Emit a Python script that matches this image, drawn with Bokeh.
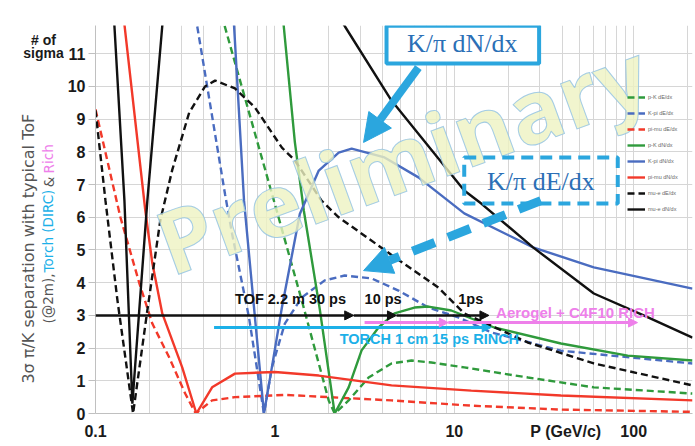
from bokeh.plotting import figure
from bokeh.layouts import row
from bokeh.models import (Range1d, FixedTicker, NumeralTickFormatter, Label, Arrow,
                          NormalHead, BoxAnnotation, Legend, LegendItem)
from bokeh.embed import file_html
from bokeh.resources import INLINE

# ---------------- data ----------------
# mu-e dN/dx (black solid)
p_mue_dndx = [0.1257, 0.1275, 0.145, 0.1605, 0.1945, 0.2356, 0.2402, 0.5, 1.2, 2.07, 2.448,
              4.467, 11.36, 14.13, 27.48, 59.95, 113.6, 212.7]
s_mue_dndx = [12.5, 11.85, 6.5, 0.3, 6.5, 11.85, 12.5, 20, 18, 12.5, 11.85,
              9.57, 6.82, 6.42, 5.08, 3.67, 3.0, 2.32]
# mu-e dE/dx (black dashed)
p_mue_dedx = [0.1, 0.1137, 0.1326, 0.162, 0.1945, 0.2296, 0.2678, 0.3328, 0.408, 0.464, 0.599,
              0.774, 1.094, 1.292, 1.824, 2.268, 4.467, 8.15, 11.36, 25.77, 59.95, 212.7]
s_mue_dedx = [9.27, 6.5, 3.45, 0.0, 3.15, 5.9, 7.45, 9.2, 10.0, 10.18, 9.94,
              9.36, 8.13, 7.74, 6.5, 6.0, 4.85, 3.85, 3.06, 2.17, 1.53, 0.86]
# pi-mu dN/dx (red solid)
p_pimu_dndx = [0.1409, 0.1896, 0.2073, 0.2356, 0.3043, 0.365, 0.4467, 0.599, 1.0, 1.756,
               4.467, 12.43, 39.29, 212.7]
s_pimu_dndx = [12.5, 6.2, 4.6, 3.06, 1.41, 0.0, 0.8, 1.22, 1.27, 1.16,
               0.86, 0.70, 0.55, 0.40]
# pi-mu dE/dx (red dashed)
p_pimu_dedx = [0.1, 0.1377, 0.1756, 0.2073, 0.2577, 0.3162, 0.362, 0.4467, 0.599, 1.136,
               4.467, 12.43, 39.29, 212.7]
s_pimu_dedx = [9.3, 6.0, 3.98, 2.75, 1.71, 0.61, 0.0, 0.4, 0.5, 0.57,
               0.40, 0.24, 0.12, 0.05]
# K-pi dE/dx (blue dashed)
p_kpi_dedx = [0.3525, 0.5275, 0.577, 0.717, 0.869, 0.962, 1.136, 1.413, 1.896, 2.448, 3.458,
              4.886, 7.171, 10.52, 16.06, 39.29, 212.7]
s_kpi_dedx = [12.5, 6.7, 5.5, 2.94, 0.0, 1.41, 2.75, 3.55, 4.07, 4.22, 4.13,
              3.76, 3.24, 2.94, 2.48, 1.92, 1.53]
# K-pi dN/dx (blue solid)
p_kpi_dndx = [0.583, 0.673, 0.764, 0.869, 0.962, 1.094, 1.377, 1.756, 2.268, 2.678, 4.084,
              6.31, 11.36, 27.48, 59.95, 212.7]
s_kpi_dndx = [12.5, 6.5, 3.27, 0.0, 1.41, 3.24, 6.1, 7.43, 7.98, 8.1, 7.83,
              7.22, 6.12, 5.08, 4.47, 3.82]
# p-K dE/dx (green dashed)
p_pk_dedx = [0.486, 1.0, 1.413, 1.995, 2.154, 2.577, 3.328, 4.467, 5.768, 7.45, 11.36,
             25.77, 59.95, 212.7]
s_pk_dedx = [12.5, 6.4, 3.45, 0.4, 0.0, 0.4, 1.1, 1.53, 1.62, 1.56, 1.41,
             1.1, 0.8, 0.61]
# p-K dN/dx (green solid)
p_pk_dndx = [1.094, 1.12, 1.292, 1.45, 1.778, 2.154, 2.577, 3.043, 3.782, 4.642, 5.995,
             7.171, 9.62, 16.68, 39.29, 92.6, 212.7]
s_pk_dndx = [12.5, 11.85, 8.3, 6.2, 3.2, 0.0, 0.8, 1.93, 2.63, 3.06, 3.24,
             3.27, 3.15, 2.63, 2.14, 1.77, 1.62]

x_ticks = [0.1, 1, 10, 100]
x_title_at = 41.9          # where "P (GeV/c)" sits on the tick-label line
y_ticks = list(range(0, 12))

# detector reach arrows (momentum, GeV/c) and levels (# sigma)
tof_marks = [0.1, 2.75, 4.76, 15.6]
tof_level = 3.0
torch_span = [0.458, 16.06]
torch_level = 2.63
rich_marks = [3.162, 9.26, 105]
rich_level = 2.78

GREEN = "#2f9a3c"
BLUE = "#4a6cc0"
RED = "#f2392a"
BLACK = "#111111"
CYAN = "#1cb0e8"
PINK = "#ee80ea"
CALLOUT = "#2ba6de"
GRAYTXT = "#555555"
DASH = "7 4"

H = 445

# ---------------- left strip with the axis titles ----------------
left = figure(width=64, height=H, x_range=Range1d(0, 64), y_range=Range1d(H, 0),
              x_axis_location=None, y_axis_location=None, output_backend="svg",
              toolbar_location=None, min_border=0)
left.outline_line_color = None
left.xgrid.visible = False
left.ygrid.visible = False

ttl = dict(text_font="Liberation Sans", text_font_style="bold", text_font_size="14px",
           text_align="center", text_baseline="middle", text_color="#1a1a1a")
left.add_layout(Label(x=43, y=17, text="# of", **ttl))
left.add_layout(Label(x=43, y=31, text="sigma", **ttl))

rot = dict(text_font="DejaVu Sans", angle=1.5708, text_baseline="middle")
left.add_layout(Label(x=28, y=256, text="3\u03c3 \u03c0/K separation with typical ToF",
                      text_align="center", text_color=GRAYTXT, text_font_size="16px", **rot))
left.add_layout(Label(x=48, y=341.9, text="(@2m),", text_align="left", text_color=GRAYTXT,
                      text_font_size="13.5px", **rot))
left.add_layout(Label(x=48, y=283.2, text="Torch (DIRC)", text_align="left", text_color=CYAN,
                      text_font_size="13.5px", **rot))
left.add_layout(Label(x=48, y=185.6, text="&", text_align="left", text_color=GRAYTXT,
                      text_font_size="13.5px", **rot))
left.add_layout(Label(x=48, y=169.6, text="Rich", text_align="left", text_color=PINK,
                      text_font_size="13.5px", **rot))

# ---------------- main chart ----------------
p = figure(width=630, height=H, x_axis_type="log",
           x_range=Range1d(0.1, 212.7), y_range=Range1d(0, 11.865),
           output_backend="svg", toolbar_location=None,
           min_border_left=29, min_border_right=2, min_border_top=25, min_border_bottom=H - 413)
p.outline_line_color = None

minor = [m * d for d in (0.1, 1, 10, 100) for m in range(2, 10) if m * d < 213]
p.xaxis.ticker = FixedTicker(ticks=x_ticks + [x_title_at])
p.xaxis.formatter = NumeralTickFormatter(format="0.[0]")
p.xaxis.major_label_overrides = {x_title_at: "P (GeV/c)"}
p.yaxis.ticker = FixedTicker(ticks=y_ticks)
p.xgrid.ticker = FixedTicker(ticks=x_ticks, minor_ticks=minor)
p.xgrid.grid_line_color = "#d6d6d6"
p.xgrid.minor_grid_line_color = "#d6d6d6"
p.ygrid.grid_line_color = "#d6d6d6"

for ax in (p.xaxis, p.yaxis):
    ax.major_label_text_font = "Liberation Sans"
    ax.major_label_text_font_style = "bold"
    ax.major_label_text_font_size = "16px"
    ax.major_label_text_color = "#1a1a1a"
    ax.axis_line_color = "#c0c0c0"
    ax.minor_tick_line_color = None
    ax.minor_tick_out = 0
p.xaxis.major_tick_line_color = None
p.xaxis.major_tick_out = 0
p.xaxis.major_tick_in = 0
p.xaxis.major_label_standoff = 9
p.yaxis.major_tick_line_color = "#c0c0c0"
p.yaxis.major_tick_out = 7
p.yaxis.major_tick_in = 0
p.yaxis.major_label_standoff = 3

# ---------------- curves ----------------
W = 2.4
r_pk_dedx = p.line(p_pk_dedx, s_pk_dedx, line_color=GREEN, line_width=W, line_dash=DASH)
r_kpi_dedx = p.line(p_kpi_dedx, s_kpi_dedx, line_color=BLUE, line_width=W, line_dash=DASH)
r_pimu_dedx = p.line(p_pimu_dedx, s_pimu_dedx, line_color=RED, line_width=W, line_dash=DASH)
r_pk_dndx = p.line(p_pk_dndx, s_pk_dndx, line_color=GREEN, line_width=W)
r_kpi_dndx = p.line(p_kpi_dndx, s_kpi_dndx, line_color=BLUE, line_width=W)
r_pimu_dndx = p.line(p_pimu_dndx, s_pimu_dndx, line_color=RED, line_width=W)
r_mue_dedx = p.line(p_mue_dedx, s_mue_dedx, line_color=BLACK, line_width=W, line_dash=DASH)
r_mue_dndx = p.line(p_mue_dndx, s_mue_dndx, line_color=BLACK, line_width=W)

# ---------------- watermark ----------------
p.add_layout(Label(x=5.08, y=7.85, text="Preliminary", angle=0.35, text_align="center",
                   text_baseline="middle", text_font="Open Sans", text_font_style="bold",
                   text_font_size="88px", text_color="#eef2c2", text_alpha=0.8,
                   text_outline_color="#8fc1e3"))

# ---------------- detector arrows ----------------
for a, b in zip(tof_marks[:-1], tof_marks[1:]):
    p.add_layout(Arrow(x_start=a, y_start=tof_level, x_end=b, y_end=tof_level,
                       line_color=BLACK, line_width=2.5,
                       end=NormalHead(size=9, fill_color=BLACK, line_color=BLACK)))
p.add_layout(Arrow(x_start=torch_span[0], y_start=torch_level, x_end=torch_span[1], y_end=torch_level,
                   line_color=CYAN, line_width=3,
                   end=NormalHead(size=9, fill_color=CYAN, line_color=CYAN)))
for a, b in zip(rich_marks[:-1], rich_marks[1:]):
    p.add_layout(Arrow(x_start=a, y_start=rich_level, x_end=b, y_end=rich_level,
                       line_color=PINK, line_width=3,
                       end=NormalHead(size=9, fill_color=PINK, line_color=PINK)))

lab = dict(text_font="Liberation Sans", text_font_style="bold",
           text_baseline="middle", text_align="left")
p.add_layout(Label(x=0.5995, y=3.5, text="TOF 2.2 m 30 ps", text_color=BLACK,
                   text_font_size="14.5px", **lab))
p.add_layout(Label(x=3.162, y=3.5, text="10 ps", text_color=BLACK, text_font_size="14.5px", **lab))
p.add_layout(Label(x=10.52, y=3.5, text="1ps", text_color=BLACK, text_font_size="14.5px", **lab))
p.add_layout(Label(x=17.1, y=3.09, text="Aerogel + C4F10 RICH", text_color=PINK,
                   text_font_size="15px", **lab))
p.add_layout(Label(x=2.296, y=2.29, text="TORCH 1 cm 15 ps RINCH", text_color=CYAN,
                   text_font_size="14.5px", **lab))

# ---------------- call-outs ----------------
p.add_layout(BoxAnnotation(left=4.19, right=29.7, bottom=10.7, top=11.86,
                           fill_color="white", fill_alpha=1.0,
                           line_color=CALLOUT, line_alpha=1.0, line_width=4))
p.add_layout(Label(x=11.08, y=11.31, text="K/\u03c0 dN/dx", text_align="center",
                   text_baseline="middle", text_font="Liberation Serif",
                   text_font_size="26px", text_color="#2b6fb6"))
p.add_layout(Arrow(x_start=6.31, y_start=10.58, x_end=3.12, y_end=8.29,
                   line_color=CALLOUT, line_width=8,
                   end=NormalHead(size=28, fill_color=CALLOUT, line_color=CALLOUT)))

p.add_layout(BoxAnnotation(left=11.36, right=81.5, bottom=6.42, top=7.83,
                           fill_alpha=0.0, line_color=CALLOUT, line_alpha=1.0, line_width=4,
                           line_dash="12 7"))
p.add_layout(Label(x=30.4, y=7.09, text="K/\u03c0 dE/dx", text_align="center",
                   text_baseline="middle", text_font="Liberation Serif",
                   text_font_size="26px", text_color="#2b6fb6"))
p.add_layout(Arrow(x_start=30.4, y_start=6.51, x_end=3.12, y_end=4.37,
                   line_color=CALLOUT, line_width=9, line_dash="24 14",
                   end=NormalHead(size=28, fill_color=CALLOUT, line_color=CALLOUT)))

# ---------------- legend ----------------
legend = Legend(items=[
    LegendItem(label="p-K dE/dx", renderers=[r_pk_dedx]),
    LegendItem(label="K-pi dE/dx", renderers=[r_kpi_dedx]),
    LegendItem(label="pi-mu dE/dx", renderers=[r_pimu_dedx]),
    LegendItem(label="p-K dN/dx", renderers=[r_pk_dndx]),
    LegendItem(label="K-pi dN/dx", renderers=[r_kpi_dndx]),
    LegendItem(label="pi-mu dN/dx", renderers=[r_pimu_dndx]),
    LegendItem(label="mu-e dE/dx", renderers=[r_mue_dedx]),
    LegendItem(label="mu-e dN/dx", renderers=[r_mue_dndx]),
], location=(532, 199), orientation="vertical", margin=0, padding=0, spacing=6,
    glyph_width=18, glyph_height=10, label_height=10, label_standoff=3,
    label_text_font="Liberation Sans", label_text_font_size="5.5px",
    label_text_color="#666666", background_fill_alpha=0.0, border_line_alpha=0.0)
p.add_layout(legend)

open("out.html", "w").write(file_html(row(left, p), INLINE))
